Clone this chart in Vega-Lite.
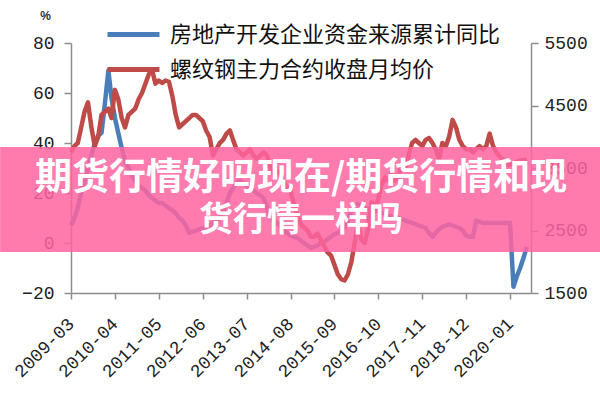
{
  "$schema": "https://vega.github.io/schema/vega-lite/v6.json",
  "width": 460,
  "height": 250,
  "autosize": {"type": "none"},
  "padding": {"left": 71, "top": 43, "right": 69, "bottom": 107},
  "background": "white",
  "config": {
    "view": {"stroke": null},
    "axis": {"grid": false, "domainColor": "#8c8c8c", "tickColor": "#8c8c8c", "labelColor": "#222222", "labelFont": "Liberation Mono", "domainWidth": 1.5, "tickWidth": 1.5}
  },
  "data": {"values": [
    {"date":"2009-03-01","fund":7,"rebar":3750},
    {"date":"2009-04-01","fund":10,"rebar":3850},
    {"date":"2009-05-01","fund":14,"rebar":3900},
    {"date":"2009-06-01","fund":20,"rebar":4150},
    {"date":"2009-07-01","fund":25,"rebar":4400},
    {"date":"2009-08-01","fund":30,"rebar":4550},
    {"date":"2009-09-01","fund":35,"rebar":4150},
    {"date":"2009-10-01","fund":40,"rebar":3850},
    {"date":"2009-11-01","fund":43,"rebar":4000},
    {"date":"2009-12-01","fund":44,"rebar":4350},
    {"date":"2010-01-01","fund":56,"rebar":4400},
    {"date":"2010-02-01","fund":69,"rebar":4450},
    {"date":"2010-03-01","fund":58,"rebar":4300},
    {"date":"2010-04-01","fund":50,"rebar":4750},
    {"date":"2010-05-01","fund":44,"rebar":4600},
    {"date":"2010-06-01","fund":38,"rebar":4300},
    {"date":"2010-07-01","fund":33,"rebar":4150},
    {"date":"2010-08-01","fund":30,"rebar":4350},
    {"date":"2010-09-01","fund":27,"rebar":4400},
    {"date":"2010-10-01","fund":25,"rebar":4450},
    {"date":"2010-11-01","fund":23,"rebar":4600},
    {"date":"2010-12-01","fund":22,"rebar":4700},
    {"date":"2011-01-01","fund":21,"rebar":4850},
    {"date":"2011-02-01","fund":19,"rebar":5000},
    {"date":"2011-03-01","fund":18,"rebar":5080},
    {"date":"2011-04-01","fund":17,"rebar":4850},
    {"date":"2011-05-01","fund":16,"rebar":4900},
    {"date":"2011-06-01","fund":16,"rebar":4860},
    {"date":"2011-07-01","fund":15,"rebar":4900},
    {"date":"2011-08-01","fund":14,"rebar":4880},
    {"date":"2011-09-01","fund":13,"rebar":4650},
    {"date":"2011-10-01","fund":12,"rebar":4350},
    {"date":"2011-11-01","fund":10,"rebar":4150},
    {"date":"2011-12-01","fund":9,"rebar":4200},
    {"date":"2012-01-01","fund":7,"rebar":4250},
    {"date":"2012-02-01","fund":4,"rebar":4300},
    {"date":"2012-03-01","fund":4.5,"rebar":4350},
    {"date":"2012-04-01","fund":5,"rebar":4350},
    {"date":"2012-05-01","fund":5.5,"rebar":4300},
    {"date":"2012-06-01","fund":6,"rebar":4250},
    {"date":"2012-07-01","fund":6.5,"rebar":4100},
    {"date":"2012-08-01","fund":7,"rebar":4000},
    {"date":"2012-09-01","fund":8,"rebar":3700},
    {"date":"2012-10-01","fund":9,"rebar":3800},
    {"date":"2012-11-01","fund":10,"rebar":3900},
    {"date":"2012-12-01","fund":12.7,"rebar":3950},
    {"date":"2013-01-01","fund":16,"rebar":4050},
    {"date":"2013-02-01","fund":20,"rebar":4100},
    {"date":"2013-03-01","fund":22,"rebar":3950},
    {"date":"2013-04-01","fund":24,"rebar":3800},
    {"date":"2013-05-01","fund":25,"rebar":3750},
    {"date":"2013-06-01","fund":24,"rebar":3700},
    {"date":"2013-07-01","fund":23,"rebar":3750},
    {"date":"2013-08-01","fund":22,"rebar":3800},
    {"date":"2013-09-01","fund":21,"rebar":3700},
    {"date":"2013-10-01","fund":20,"rebar":3650},
    {"date":"2013-11-01","fund":19,"rebar":3700},
    {"date":"2013-12-01","fund":18,"rebar":3750},
    {"date":"2014-01-01","fund":14,"rebar":3700},
    {"date":"2014-02-01","fund":10,"rebar":3500},
    {"date":"2014-03-01","fund":9,"rebar":3400},
    {"date":"2014-04-01","fund":8,"rebar":3450},
    {"date":"2014-05-01","fund":7,"rebar":3400},
    {"date":"2014-06-01","fund":5,"rebar":3250},
    {"date":"2014-07-01","fund":4,"rebar":3200},
    {"date":"2014-08-01","fund":3,"rebar":3150},
    {"date":"2014-09-01","fund":2.5,"rebar":2900},
    {"date":"2014-10-01","fund":2,"rebar":2750},
    {"date":"2014-11-01","fund":1,"rebar":2600},
    {"date":"2014-12-01","fund":0,"rebar":2550},
    {"date":"2015-01-01","fund":-1,"rebar":2500},
    {"date":"2015-02-01","fund":-2,"rebar":2400},
    {"date":"2015-03-01","fund":-1.5,"rebar":2400},
    {"date":"2015-04-01","fund":-1,"rebar":2450},
    {"date":"2015-05-01","fund":0,"rebar":2350},
    {"date":"2015-06-01","fund":0.5,"rebar":2250},
    {"date":"2015-07-01","fund":1.5,"rebar":2150},
    {"date":"2015-08-01","fund":2.5,"rebar":2100},
    {"date":"2015-09-01","fund":3.5,"rebar":1950},
    {"date":"2015-10-01","fund":4,"rebar":1800},
    {"date":"2015-11-01","fund":5,"rebar":1720},
    {"date":"2015-12-01","fund":6,"rebar":1700},
    {"date":"2016-01-01","fund":9,"rebar":1800},
    {"date":"2016-02-01","fund":13,"rebar":2000},
    {"date":"2016-03-01","fund":15,"rebar":2300},
    {"date":"2016-04-01","fund":15.5,"rebar":2650},
    {"date":"2016-05-01","fund":15,"rebar":2350},
    {"date":"2016-06-01","fund":14,"rebar":2300},
    {"date":"2016-07-01","fund":13.5,"rebar":2550},
    {"date":"2016-08-01","fund":13,"rebar":2950},
    {"date":"2016-09-01","fund":13,"rebar":2850},
    {"date":"2016-10-01","fund":12.5,"rebar":3000},
    {"date":"2016-11-01","fund":12,"rebar":3250},
    {"date":"2016-12-01","fund":11.5,"rebar":3350},
    {"date":"2017-01-01","fund":11,"rebar":3300},
    {"date":"2017-02-01","fund":10.5,"rebar":3450},
    {"date":"2017-03-01","fund":10,"rebar":3300},
    {"date":"2017-04-01","fund":10,"rebar":3350},
    {"date":"2017-05-01","fund":9.5,"rebar":3600},
    {"date":"2017-06-01","fund":9,"rebar":3500},
    {"date":"2017-07-01","fund":8.5,"rebar":3700},
    {"date":"2017-08-01","fund":8,"rebar":3900},
    {"date":"2017-09-01","fund":7.5,"rebar":3950},
    {"date":"2017-10-01","fund":7,"rebar":3900},
    {"date":"2017-11-01","fund":6.5,"rebar":3850},
    {"date":"2017-12-01","fund":6,"rebar":3950},
    {"date":"2018-01-01","fund":4,"rebar":3980},
    {"date":"2018-02-01","fund":2.5,"rebar":3900},
    {"date":"2018-03-01","fund":4,"rebar":3800},
    {"date":"2018-04-01","fund":5.5,"rebar":3650},
    {"date":"2018-05-01","fund":6.5,"rebar":3900},
    {"date":"2018-06-01","fund":7,"rebar":3850},
    {"date":"2018-07-01","fund":7.5,"rebar":4000},
    {"date":"2018-08-01","fund":7,"rebar":4270},
    {"date":"2018-09-01","fund":6.5,"rebar":4150},
    {"date":"2018-10-01","fund":6,"rebar":3950},
    {"date":"2018-11-01","fund":5,"rebar":3850},
    {"date":"2018-12-01","fund":3,"rebar":3800},
    {"date":"2019-01-01","fund":2.5,"rebar":3800},
    {"date":"2019-02-01","fund":2.5,"rebar":3750},
    {"date":"2019-03-01","fund":9,"rebar":3800},
    {"date":"2019-04-01","fund":8.5,"rebar":3850},
    {"date":"2019-05-01","fund":8,"rebar":3800},
    {"date":"2019-06-01","fund":8,"rebar":3850},
    {"date":"2019-07-01","fund":8,"rebar":4050},
    {"date":"2019-08-01","fund":8,"rebar":3850},
    {"date":"2019-09-01","fund":8,"rebar":3750},
    {"date":"2019-10-01","fund":8,"rebar":3680},
    {"date":"2019-11-01","fund":8,"rebar":3620},
    {"date":"2019-12-01","fund":8,"rebar":3550},
    {"date":"2020-01-01","fund":8,"rebar":3550},
    {"date":"2020-02-01","fund":-17.5,"rebar":3580},
    {"date":"2020-03-01","fund":-13.5,"rebar":3600},
    {"date":"2020-04-01","fund":-10,"rebar":3620},
    {"date":"2020-05-01","fund":-6,"rebar":3630},
    {"date":"2020-06-01","fund":-1.5,"rebar":3630}
  ]},
  "layer": [
    {
      "mark": {"type": "line", "strokeWidth": 4.5, "strokeJoin": "round"},
      "encoding": {
        "x": {
          "field": "date", "type": "temporal",
          "scale": {"type": "utc", "domain": [{"year": 2009, "month": 3, "date": 1, "utc": true}, {"year": 2020, "month": 7, "date": 8, "utc": true}]},
          "axis": {
            "title": null,
            "values": [
              {"year": 2009, "month": 3, "date": 1, "utc": true},
              {"year": 2010, "month": 4, "date": 1, "utc": true},
              {"year": 2011, "month": 5, "date": 1, "utc": true},
              {"year": 2012, "month": 6, "date": 1, "utc": true},
              {"year": 2013, "month": 7, "date": 1, "utc": true},
              {"year": 2014, "month": 8, "date": 1, "utc": true},
              {"year": 2015, "month": 9, "date": 1, "utc": true},
              {"year": 2016, "month": 10, "date": 1, "utc": true},
              {"year": 2017, "month": 11, "date": 1, "utc": true},
              {"year": 2018, "month": 12, "date": 1, "utc": true},
              {"year": 2020, "month": 1, "date": 1, "utc": true}
            ],
            "labelExpr": "utcFormat(datum.value, '%Y-%m')",
            "labelAngle": -45, "labelAlign": "right", "labelBaseline": "middle",
            "labelPadding": 22, "tickSize": 6, "labelFontSize": 18,
            "labelOverlap": false, "labelBound": false, "labelFlush": false
          }
        },
        "y": {
          "field": "fund", "type": "quantitative",
          "scale": {"domain": [-20, 80], "nice": false, "zero": false},
          "axis": {
            "values": [-20, 0, 20, 40, 60, 80],
            "tickSize": 7, "labelPadding": 10, "labelFontSize": 18,
            "title": "%", "titleAngle": 0, "titleX": -26, "titleY": -28,
            "titleFontSize": 12, "titleFontWeight": "bold", "titleAlign": "center", "titleBaseline": "middle", "titleColor": "#333333"
          }
        },
        "color": {
          "datum": "房地产开发企业资金来源累计同比",
          "scale": {"domain": ["房地产开发企业资金来源累计同比", "螺纹钢主力合约收盘月均价"], "range": ["#4a7ebb", "#be4b48"]},
          "legend": {
            "title": null, "orient": "none", "legendX": 34, "legendY": -26, "direction": "vertical",
            "symbolType": "stroke", "symbolSize": 2704, "symbolStrokeWidth": 5,
            "labelFont": "Noto Sans CJK SC", "labelFontSize": 22, "labelColor": "#111111",
            "labelLimit": 500, "labelOffset": 8, "clipHeight": 35, "rowPadding": 0, "padding": 0
          }
        }
      }
    },
    {
      "mark": {"type": "line", "strokeWidth": 4.5, "strokeJoin": "round"},
      "encoding": {
        "x": {"field": "date", "type": "temporal"},
        "y": {
          "field": "rebar", "type": "quantitative",
          "scale": {"domain": [1500, 5500], "nice": false, "zero": false},
          "axis": {
            "orient": "right", "values": [1500, 2500, 3500, 4500, 5500], "format": "d",
            "tickSize": 7, "labelPadding": 6, "labelFontSize": 18, "title": null
          }
        },
        "color": {"datum": "螺纹钢主力合约收盘月均价"}
      }
    },
    {
      "layer": [
        {
          "data": {"values": [{"band": "banner"}]},
          "mark": {"type": "rect", "fill": "#ff64a0", "opacity": 0.85},
          "encoding": {
            "x": {"datum": {"year": 2007, "month": 6, "date": 1, "utc": true}, "type": "temporal"},
            "x2": {"datum": {"year": 2022, "month": 4, "date": 1, "utc": true}},
            "y": {"datum": 38.4, "type": "quantitative", "scale": {"domain": [-20, 80], "nice": false, "zero": false}, "axis": null},
            "y2": {"datum": -3.6}
          }
        },
        {
          "data": {"values": [{"t": "期货行情好吗现在/期货行情和现"}]},
          "mark": {"type": "text", "font": "Noto Sans CJK SC", "fontWeight": "bold", "fontSize": 37, "fill": "white", "align": "center", "baseline": "middle"},
          "encoding": {
            "text": {"field": "t"},
            "x": {"datum": {"year": 2014, "month": 11, "date": 4, "utc": true}, "type": "temporal"},
            "y": {"datum": 25.6, "type": "quantitative"}
          }
        },
        {
          "data": {"values": [{"t": "货行情一样吗"}]},
          "mark": {"type": "text", "font": "Noto Sans CJK SC", "fontWeight": "bold", "fontSize": 34, "fill": "white", "align": "center", "baseline": "middle"},
          "encoding": {
            "text": {"field": "t"},
            "x": {"datum": {"year": 2014, "month": 11, "date": 4, "utc": true}, "type": "temporal"},
            "y": {"datum": 8.8, "type": "quantitative"}
          }
        }
      ]
    }
  ],
  "resolve": {"scale": {"y": "independent"}}
}
